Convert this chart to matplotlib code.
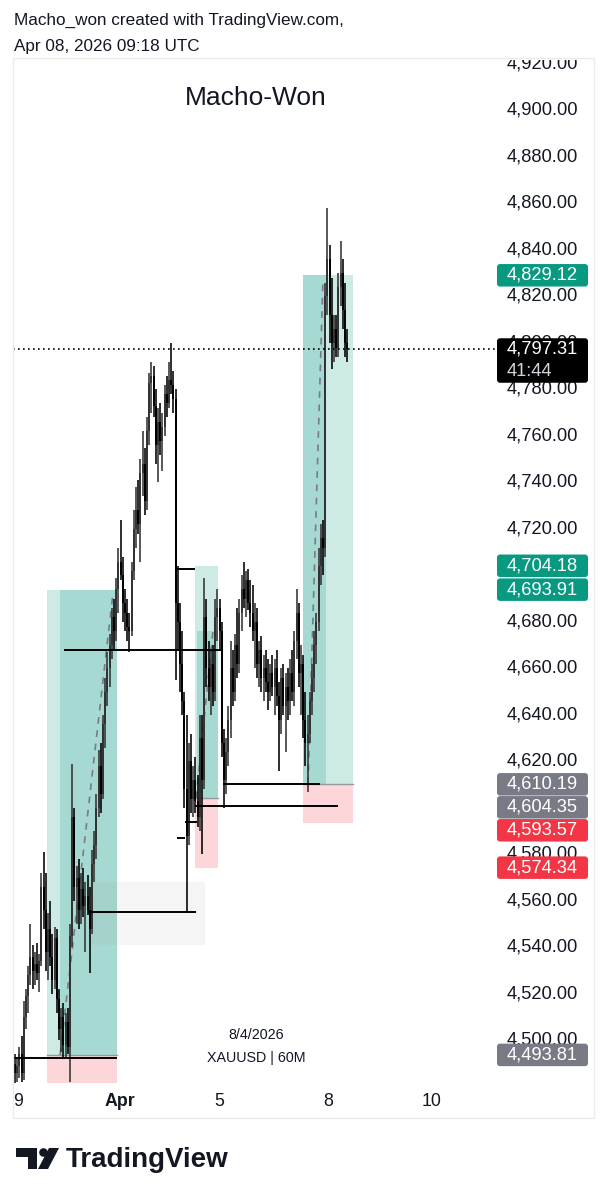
import matplotlib
matplotlib.use('Agg')
import matplotlib.pyplot as plt
import matplotlib.transforms as mtransforms
from matplotlib.patches import Rectangle, FancyBboxPatch, Circle, Polygon
import numpy as np

plt.rcParams['font.family'] = ['Liberation Sans', 'DejaVu Sans']

W, H = 606, 1200

# ---------------- data: XAUUSD 60M candles ----------------
opens = [4490, 4486, 4489, 4494, 4486, 4510, 4519, 4528, 4536, 4530,
         4533, 4529, 4534, 4566, 4556, 4538, 4548, 4536, 4526, 4544,
         4518, 4505, 4510, 4498, 4508, 4497, 4545, 4596, 4566, 4570,
         4556, 4565, 4558, 4562, 4556, 4548, 4576, 4584, 4600, 4618,
         4606, 4636, 4650, 4660, 4670, 4682, 4676, 4694, 4706, 4700,
         4688, 4684, 4678, 4676, 4702, 4720, 4728, 4722, 4744, 4748,
         4732, 4762, 4783, 4786, 4773, 4756, 4766, 4758, 4764, 4778,
         4774, 4784, 4782, 4776, 4688, 4680, 4662, 4646, 4608, 4588,
         4620, 4604, 4612, 4603, 4596, 4630, 4612, 4682, 4660, 4652,
         4662, 4650, 4682, 4686, 4676, 4628, 4612, 4624, 4638, 4660,
         4650, 4670, 4662, 4684, 4694, 4690, 4698, 4688, 4684, 4676,
         4680, 4662, 4668, 4656, 4660, 4654, 4650, 4658, 4652, 4660,
         4648, 4638, 4656, 4644, 4652, 4646, 4658, 4650, 4672, 4684,
         4658, 4662, 4638, 4628, 4632, 4646, 4656, 4670, 4680, 4704,
         4716, 4712, 4820, 4836, 4812, 4800, 4806, 4798, 4824, 4830,
         4814, 4800]
highs = [4494, 4492, 4497, 4502, 4517, 4522, 4532, 4550, 4541, 4538,
         4542, 4537, 4572, 4581, 4572, 4555, 4560, 4546, 4549, 4548,
         4522, 4514, 4516, 4512, 4514, 4550, 4619, 4600, 4575, 4578,
         4572, 4574, 4568, 4571, 4566, 4582, 4590, 4606, 4625, 4628,
         4640, 4656, 4667, 4675, 4686, 4690, 4699, 4712, 4724, 4708,
         4694, 4690, 4684, 4706, 4728, 4738, 4741, 4750, 4762, 4755,
         4768, 4787, 4792, 4790, 4780, 4772, 4774, 4770, 4782, 4786,
         4792, 4800, 4788, 4780, 4704, 4688, 4676, 4650, 4640, 4628,
         4632, 4618, 4622, 4614, 4640, 4640, 4699, 4690, 4672, 4668,
         4670, 4690, 4694, 4690, 4680, 4634, 4630, 4644, 4672, 4668,
         4675, 4686, 4690, 4700, 4706, 4702, 4703, 4698, 4696, 4688,
         4686, 4672, 4674, 4666, 4668, 4664, 4662, 4666, 4664, 4668,
         4654, 4660, 4662, 4658, 4660, 4664, 4668, 4676, 4694, 4688,
         4670, 4666, 4650, 4640, 4650, 4662, 4676, 4684, 4712, 4722,
         4724, 4826, 4858, 4842, 4828, 4812, 4812, 4830, 4844, 4836,
         4826, 4806]
lows = [4481, 4482, 4484, 4482, 4483, 4505, 4512, 4524, 4522, 4524,
        4526, 4521, 4532, 4548, 4530, 4526, 4532, 4520, 4522, 4512,
        4500, 4495, 4492, 4493, 4494, 4482, 4540, 4560, 4550, 4548,
        4550, 4553, 4538, 4554, 4529, 4546, 4568, 4578, 4596, 4598,
        4604, 4626, 4644, 4652, 4664, 4668, 4672, 4684, 4698, 4680,
        4676, 4672, 4667, 4674, 4698, 4712, 4718, 4706, 4734, 4726,
        4728, 4756, 4770, 4768, 4748, 4740, 4752, 4745, 4760, 4768,
        4772, 4778, 4770, 4655, 4668, 4650, 4640, 4600, 4555, 4584,
        4598, 4596, 4598, 4592, 4590, 4580, 4608, 4652, 4646, 4640,
        4644, 4646, 4672, 4668, 4622, 4600, 4606, 4618, 4630, 4644,
        4646, 4656, 4658, 4676, 4686, 4682, 4685, 4678, 4672, 4660,
        4656, 4652, 4650, 4646, 4650, 4642, 4646, 4648, 4640, 4644,
        4616, 4632, 4640, 4624, 4638, 4640, 4646, 4644, 4664, 4652,
        4640, 4630, 4618, 4607, 4628, 4640, 4650, 4662, 4676, 4696,
        4700, 4708, 4812, 4800, 4789, 4792, 4794, 4794, 4816, 4806,
        4794, 4792]
closes = [4486, 4489, 4494, 4486, 4510, 4519, 4528, 4536, 4530, 4533,
          4529, 4534, 4566, 4556, 4538, 4548, 4536, 4526, 4544, 4518,
          4505, 4510, 4498, 4508, 4497, 4545, 4596, 4566, 4570, 4556,
          4565, 4558, 4562, 4556, 4548, 4576, 4584, 4600, 4618, 4606,
          4636, 4650, 4660, 4670, 4682, 4676, 4694, 4706, 4700, 4688,
          4684, 4678, 4676, 4702, 4720, 4728, 4722, 4744, 4748, 4732,
          4762, 4783, 4786, 4773, 4756, 4766, 4758, 4764, 4778, 4774,
          4784, 4782, 4776, 4688, 4680, 4662, 4646, 4608, 4588, 4620,
          4604, 4612, 4603, 4596, 4630, 4612, 4682, 4660, 4652, 4662,
          4650, 4682, 4686, 4676, 4628, 4612, 4624, 4638, 4660, 4650,
          4670, 4662, 4684, 4694, 4690, 4698, 4688, 4684, 4676, 4680,
          4662, 4668, 4656, 4660, 4654, 4650, 4658, 4652, 4660, 4648,
          4638, 4656, 4644, 4652, 4646, 4658, 4650, 4672, 4684, 4658,
          4662, 4638, 4628, 4632, 4646, 4656, 4670, 4680, 4704, 4716,
          4712, 4820, 4836, 4812, 4800, 4806, 4798, 4824, 4830, 4814,
          4800, 4797.31]

last_price = 4797.31
countdown = "41:44"

price_ticks = [4500, 4520, 4540, 4560, 4580, 4600, 4620, 4640, 4660, 4680,
               4700, 4720, 4740, 4760, 4780, 4800, 4820, 4840, 4860, 4880,
               4900, 4920]
time_tick_pos = [1.4, 47.7, 92.7, 142.3, 189.5]
time_tick_labels = ["9", "Apr", "5", "8", "10"]
time_tick_bold = [False, True, False, False, False]

# long-position tools
pos_start = [14.5, 81.8, 131.0]
pos_end = [46.4, 92.3, 153.6]
pos_fill_start = [20.5, 82.5, 131.0]
pos_fill_end = [46.4, 92.3, 141.4]
pos_entry = [4493.81, 4604.35, 4610.19]
pos_target = [4693.91, 4704.18, 4829.12]
pos_fill_to = [4693.91, 4676.0, 4829.12]
pos_stop = [4470.0, 4574.34, 4593.57]
path_start = [20.5, 82.3, 133.2]
path_end = [44.5, 90.0, 140.0]
path_to = [4692.0, 4676.0, 4828.0]

# gray rectangle drawing
rect_x = [33.2, 85.9]
rect_y = [4541.5, 4568.2]

# horizontal line drawings (price, start bar, end bar)
hl_price = [4492.5, 4668.0, 4703.0, 4555.3, 4610.2, 4601.0, 4587.0, 4594.0]
hl_start = [-0.9, 22.3, 72.7, 33.2, 94.5, 81.8, 73.6, 77.3]
hl_end = [46.4, 94.0, 81.8, 82.3, 138.5, 146.8, 77.3, 82.5]

# price scale labels
label_prices = [4829.12, 4704.18, 4693.91, 4610.19, 4604.35, 4593.57, 4574.34, 4493.81]
label_colors = ['#089981', '#089981', '#089981', '#787b86', '#787b86', '#f23645', '#f23645', '#787b86']

# ---------------- figure ----------------
fig = plt.figure(figsize=(W / 100, H / 100), dpi=100)
fig.patch.set_facecolor('white')

PANE_L, PANE_R, PANE_T, PANE_B = 13, 495, 58, 1083
ax = fig.add_axes([PANE_L / W, 1 - PANE_B / H, (PANE_R - PANE_L) / W, (PANE_B - PANE_T) / H])
ax.set_xlim(-0.909, 218.18)
ax.set_ylim(4481.72, 4922.58)
ax.axis('off')

PIX = mtransforms.Affine2D().scale(1, -1).translate(0, H)  # image-pixel coords
frame_clip = mtransforms.Bbox.from_extents(0, H - 1118, W, H - 60)


def img_y(p):
    return H - ax.transData.transform((0, p))[1]


# long position tools
GREEN = '#089981'
RED = '#f23645'
for s, e, fs, fe, en, tg, ft, st in zip(pos_start, pos_end, pos_fill_start, pos_fill_end,
                                          pos_entry, pos_target, pos_fill_to, pos_stop):
    ax.add_patch(Rectangle((s, en), e - s, tg - en, facecolor=GREEN, alpha=0.2, lw=0, zorder=1))
    ax.add_patch(Rectangle((fs, en), fe - fs, ft - en, facecolor=GREEN, alpha=0.2, lw=0, zorder=1))
    ax.add_patch(Rectangle((s, st), e - s, en - st, facecolor=RED, alpha=0.2, lw=0, zorder=1))
    ax.plot([s, e], [en, en], color='#9598a1', lw=1.0, zorder=1.5)

for s, e, a, b in zip(path_start, path_end, pos_entry, path_to):
    ax.plot([s, e], [a, b], color='#787b86', lw=1.2, ls=(0, (4, 4)), zorder=1.6)

# gray rectangle
ax.add_patch(Rectangle((rect_x[0], rect_y[0]), rect_x[1] - rect_x[0], rect_y[1] - rect_y[0],
                       facecolor='#9e9e9e', alpha=0.1, edgecolor='#d0d0d0', lw=1.0, zorder=1))

# candles
idx = np.arange(len(closes))
o = np.array(opens, float)
c = np.array(closes, float)
hi = np.array(highs, float)
lo = np.array(lows, float)
up = c >= o
col = np.where(up, '#333333', '#000000')
ax.vlines(idx, lo, hi, colors=col, lw=1.15, zorder=3)
body_b = np.minimum(o, c)
body_h = np.maximum(np.abs(c - o), 0.8)
ax.bar(idx, body_h, bottom=body_b, width=0.88, color=col, lw=0, zorder=3)

# horizontal line drawings
for p, s, e in zip(hl_price, hl_start, hl_end):
    ax.plot([s, e], [p, p], color='#000000', lw=1.4, zorder=4, solid_capstyle='butt')

# last-price dotted line
ax.axhline(last_price, color='#000000', lw=1.2, ls=(0, (1, 2)), zorder=4)

# ---------------- price scale ----------------
TXT_X = 507
FS = 13.2
BOX_L, BOX_R, BOX_H = 497, 588, 22.5


def box(y_top, height, color):
    fig.add_artist(FancyBboxPatch((BOX_L, y_top), BOX_R - BOX_L, height,
                                  boxstyle='round,pad=0,rounding_size=3', transform=PIX,
                                  facecolor=color, edgecolor='none', zorder=10))


spans = []  # (top, bottom) pixel spans of label boxes

# current price box (two lines)
yc = img_y(last_price)
box(yc - 11, 44.5, '#000000')
spans.append((yc - 11, yc + 33.5))
fig.text(TXT_X, yc, f"{last_price:,.2f}", transform=PIX, ha='left', va='center',
         fontsize=FS, color='white', zorder=11)
fig.text(TXT_X, yc + 22.5, countdown, transform=PIX, ha='left', va='center',
         fontsize=FS, color='#d1d4dc', zorder=11)

prev_bottom = -1e9
for p, colr in sorted(zip(label_prices, label_colors), key=lambda t: -t[0]):
    yc = max(img_y(p), prev_bottom + BOX_H / 2 + 0.5)
    box(yc - BOX_H / 2, BOX_H, colr)
    spans.append((yc - BOX_H / 2, yc + BOX_H / 2))
    fig.text(TXT_X, yc, f"{p:,.2f}", transform=PIX, ha='left', va='center',
             fontsize=FS, color='white', zorder=11)
    prev_bottom = yc + BOX_H / 2

# merge touching box spans
covered = []
for t0, t1 in sorted(spans):
    if covered and t0 <= covered[-1][1] + 1.5:
        covered[-1] = (covered[-1][0], max(covered[-1][1], t1))
    else:
        covered.append((t0, t1))

for p in price_ticks:
    ty = img_y(p)
    # tick labels completely hidden behind label boxes are not drawn
    if any(t0 <= ty - 7 and ty + 7 <= t1 for t0, t1 in covered):
        continue
    t = fig.text(TXT_X, ty, f"{p:,.2f}", transform=PIX, ha='left', va='center',
                 fontsize=FS, color='#131722')
    t.set_clip_box(frame_clip)
    t.set_clip_on(True)

# ---------------- time scale ----------------
for pos, lab, b in zip(time_tick_pos, time_tick_labels, time_tick_bold):
    x = ax.transData.transform((pos, 0))[0]
    fig.text(x, 1101, lab, transform=PIX, ha='center', va='center', fontsize=12.8,
             fontweight='bold' if b else 'normal', color='#131722')

# frame
fig.add_artist(Rectangle((13, 58), 594 - 13, 1118 - 58, transform=PIX, facecolor='none',
                         edgecolor='#ebebeb', lw=1.0, zorder=12))

# ---------------- texts ----------------
fig.text(14, 20, "Macho_won created with TradingView.com,", transform=PIX, ha='left',
         va='center', fontsize=12.3, color='#131722')
fig.text(14, 46, "Apr 08, 2026 09:18 UTC", transform=PIX, ha='left', va='center',
         fontsize=12.3, color='#131722')
fig.text(256, 98, "Macho-Won", transform=PIX, ha='center', va='center', fontsize=19,
         color='#131722')
fig.text(256, 1035, "8/4/2026", transform=PIX, ha='center', va='center', fontsize=10.3,
         color='#131722')
fig.text(256, 1058, "XAUUSD | 60M", transform=PIX, ha='center', va='center', fontsize=10.3,
         color='#131722')

# TradingView logo
logo_c = '#131722'
fig.add_artist(Polygon([(16, 1148), (37, 1148), (37, 1169), (28, 1169), (28, 1157), (16, 1157)],
                       closed=True, transform=PIX, facecolor=logo_c, edgecolor='none'))
fig.add_artist(Circle((43.5, 1152.5), 4.3, transform=PIX, facecolor=logo_c, edgecolor='none'))
fig.add_artist(Polygon([(49, 1148), (59, 1148), (48, 1169), (38, 1169)],
                       closed=True, transform=PIX, facecolor=logo_c, edgecolor='none'))
fig.text(66, 1160, "TradingView", transform=PIX, ha='left', va='center', fontsize=20,
         fontweight='bold', color=logo_c)

fig.savefig('out.png', dpi=100, facecolor='white')
